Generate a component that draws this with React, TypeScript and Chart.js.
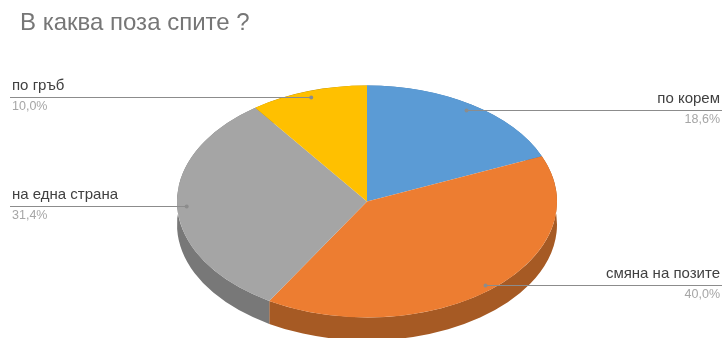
import React, { useEffect, useRef } from "react";
import { Chart, registerables } from "chart.js";

Chart.register(...registerables);

const TITLE = "В каква поза спите ?";
const CATEGORIES = ["по корем", "смяна на позите", "на една страна", "по гръб"];
const VALUES = [18.6, 40.0, 31.4, 10.0];
const TOP_COLORS = ["#5B9BD5", "#ED7D31", "#A5A5A5", "#FFC000"];
const SIDE_COLORS = ["#3F74A6", "#A65A24", "#787878", "#B58A00"];

const W = 723;
const H = 338;
const K = 0.61; // vertical squash of the pie
const DEPTH = 23; // screen pixels of pie thickness
const RADIUS = 190;

const pie3d = {
  id: "pie3d",
  beforeDatasetsDraw(chart: any) {
    const ctx = chart.ctx;
    const arcs = chart.getDatasetMeta(0).data;
    if (!arcs.length) return;
    const cx = arcs[0].x;
    const cy = arcs[0].y;
    ctx.save();
    ctx.translate(cx, cy);
    ctx.scale(1, K);
    ctx.translate(-cx, -cy);
    const D = DEPTH / K;
    arcs.forEach((a: any, i: number) => {
      ctx.beginPath();
      ctx.arc(a.x, a.y, a.outerRadius, a.startAngle, a.endAngle);
      ctx.arc(a.x, a.y + D, a.outerRadius, a.endAngle, a.startAngle, true);
      ctx.closePath();
      ctx.fillStyle = SIDE_COLORS[i];
      ctx.fill();
    });
  },
  afterDatasetsDraw(chart: any) {
    chart.ctx.restore();
  },
  afterDraw(chart: any) {
    const ctx = chart.ctx;
    const arcs = chart.getDatasetMeta(0).data;
    ctx.save();
    // title
    ctx.font = '24px "Liberation Sans", Arial, sans-serif';
    ctx.fillStyle = "#767676";
    ctx.textAlign = "left";
    ctx.textBaseline = "middle";
    ctx.fillText(TITLE, 20, 23);

    arcs.forEach((a: any, i: number) => {
      const mid = (a.startAngle + a.endAngle) / 2;
      const px = a.x + 0.95 * a.outerRadius * Math.cos(mid);
      const py = a.y + K * 0.95 * a.outerRadius * Math.sin(mid);
      const right = Math.cos(mid) > 0;
      const ly = Math.round(py) + 0.5;
      ctx.strokeStyle = "#8c8c8c";
      ctx.lineWidth = 1;
      ctx.beginPath();
      if (right) {
        ctx.moveTo(px, ly);
        ctx.lineTo(722, ly);
      } else {
        ctx.moveTo(10, ly);
        ctx.lineTo(px, ly);
      }
      ctx.stroke();
      ctx.fillStyle = "#8c8c8c";
      ctx.beginPath();
      ctx.arc(px, ly, 2, 0, Math.PI * 2);
      ctx.fill();

      const pct = VALUES[i].toFixed(1).replace(".", ",") + "%";
      ctx.textAlign = right ? "right" : "left";
      const tx = right ? 720 : 12;
      ctx.textBaseline = "alphabetic";
      ctx.font = '15px "Liberation Sans", Arial, sans-serif';
      ctx.fillStyle = "#404040";
      ctx.fillText(CATEGORIES[i], tx, ly - 7.5);
      ctx.font = '12.5px "Liberation Sans", Arial, sans-serif';
      ctx.fillStyle = "#a6a6a6";
      ctx.fillText(pct, tx, ly + 12);
    });
    ctx.restore();
  },
};

export default function App() {
  const ref = useRef<HTMLCanvasElement | null>(null);
  useEffect(() => {
    if (!ref.current) return;
    const chart = new Chart(ref.current, {
      type: "pie",
      data: {
        labels: CATEGORIES,
        datasets: [
          {
            data: VALUES,
            backgroundColor: TOP_COLORS,
            borderWidth: 0,
            clip: false as any,
          } as any,
        ],
      },
      options: {
        responsive: false,
        animation: false,
        radius: RADIUS,
        layout: { padding: { left: 11, right: 0, top: 65, bottom: 0 } },
        plugins: {
          legend: { display: false },
          title: { display: false },
          tooltip: { enabled: false },
        },
      } as any,
      plugins: [pie3d],
    });
    return () => chart.destroy();
  }, []);
  return (
    <div style={{ position: "fixed", left: 0, top: 0, width: W, height: H, background: "#fff" }}>
      <canvas ref={ref} width={W} height={H} style={{ width: W, height: H, display: "block" }} />
    </div>
  );
}
